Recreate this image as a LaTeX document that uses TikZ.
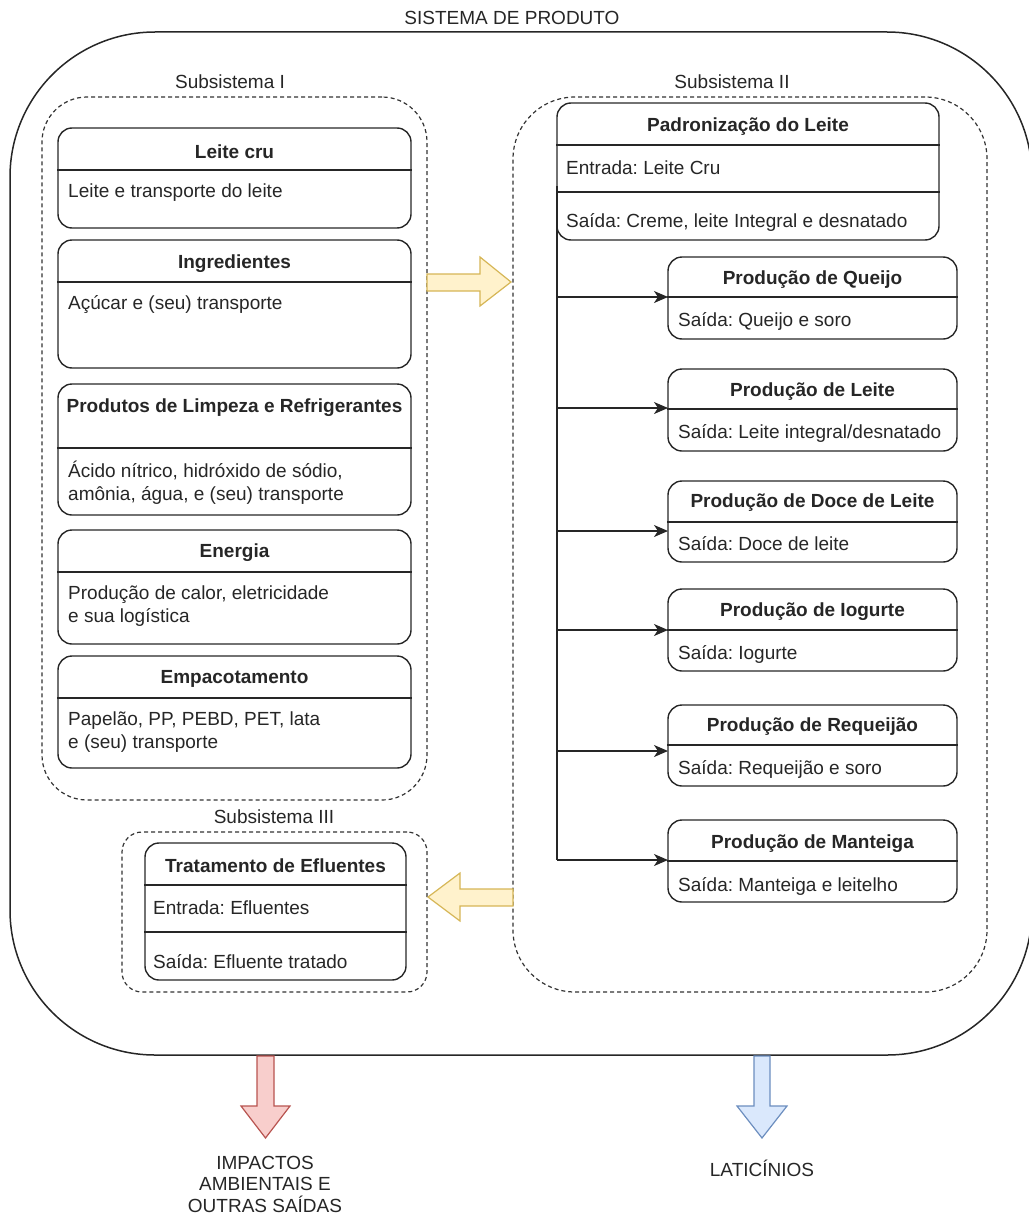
\documentclass[tikz,border=0pt]{standalone}
\usepackage{fontspec}
\setmainfont{Liberation Sans}
\usetikzlibrary{arrows.meta}
\frenchspacing
\begin{document}
\begin{tikzpicture}[x=1pt,y=-1pt,
  every node/.style={font=\fontsize{19}{23}\selectfont},
  ln/.style={draw=black!85, line width=1.4pt},
  box/.style={ln, rectangle, rounded corners=14pt, inner sep=0pt},
  dashbox/.style={draw=black!80, line width=1.2pt, dash pattern=on 4pt off 3pt, rectangle, inner sep=0pt},
  ttl/.style={font=\fontsize{19}{23}\selectfont\bfseries, text=black!85, inner sep=0pt, yshift=-1.5pt},
  txt/.style={text=black!85, inner sep=0pt, anchor=west, align=left, yshift=-2pt},
  lbl/.style={text=black!85, inner sep=0pt, align=center, yshift=-1pt},
  arr/.style={draw=black!85, line width=1.4pt, -{Stealth[length=14pt,width=12pt,inset=4pt]}},
]
\definecolor{yfill}{HTML}{FFF2CC}\definecolor{ydraw}{HTML}{D6B656}
\definecolor{rfill}{HTML}{F8CECC}\definecolor{rdraw}{HTML}{B85450}
\definecolor{bfill}{HTML}{DAE8FC}\definecolor{bdraw}{HTML}{6C8EBF}
\useasboundingbox (0,0) rectangle (1028,1215);

% outer system
\node[draw=black!85, line width=1.5pt, rectangle, rounded corners=145pt, minimum width=1022pt, minimum height=1023pt] (sys) at (521,543.5) {};
\node[lbl] (sysL) at (512,17) {SISTEMA DE PRODUTO};

% subsystems
\node[dashbox, rounded corners=45pt, minimum width=385pt, minimum height=703pt] (s1) at (234.5,448.5) {};
\node[lbl] (s1L) at (230,81) {Subsistema I};
\node[dashbox, rounded corners=62pt, minimum width=474pt, minimum height=895pt] (s2) at (750,544.5) {};
\node[lbl] (s2L) at (732,81) {Subsistema II};
\node[dashbox, rounded corners=20pt, minimum width=305pt, minimum height=160pt] (s3) at (274.5,912) {};
\node[lbl] (s3L) at (274,816) {Subsistema III};

% ---- left boxes
\node[box, minimum width=353pt, minimum height=100pt] (lc) at (234.5,178) {};
\draw[ln] (lc.west |- 0,170) -- (lc.east |- 0,170);
\node[ttl] (lcT) at (234.5,150) {Leite cru};
\node[txt] (lcB) at (68,191) {Leite e transporte do leite};

\node[box, minimum width=353pt, minimum height=128pt] (ing) at (234.5,304) {};
\draw[ln] (ing.west |- 0,282) -- (ing.east |- 0,282);
\node[ttl] (ingT) at (234.5,262) {Ingredientes};
\node[txt] (ingB) at (68,303) {Açúcar e (seu) transporte};

\node[box, minimum width=353pt, minimum height=131pt] (pl) at (234.5,449.5) {};
\draw[ln] (pl.west |- 0,448) -- (pl.east |- 0,448);
\node[ttl] (plT) at (234.5,406) {Produtos de Limpeza e Refrigerantes};
\node[txt] (plB) at (68,480.5) {Ácido nítrico, hidróxido de sódio,\\amônia, água, e (seu) transporte};

\node[box, minimum width=353pt, minimum height=114pt] (en) at (234.5,587) {};
\draw[ln] (en.west |- 0,572) -- (en.east |- 0,572);
\node[ttl] (enT) at (234.5,551) {Energia};
\node[txt] (enB) at (68,604) {Produção de calor, eletricidade\\e sua logística};

\node[box, minimum width=353pt, minimum height=112pt] (emp) at (234.5,712) {};
\draw[ln] (emp.west |- 0,698) -- (emp.east |- 0,698);
\node[ttl] (empT) at (234.5,677) {Empacotamento};
\node[txt] (empB) at (68,730) {Papelão, PP, PEBD, PET, lata\\e (seu) transporte};

% ---- subsystem III
\node[box, minimum width=261pt, minimum height=137pt] (tr) at (275.5,911.5) {};
\draw[ln] (tr.west |- 0,885) -- (tr.east |- 0,885);
\draw[ln] (tr.west |- 0,932) -- (tr.east |- 0,932);
\node[ttl] (trT) at (275.5,864) {Tratamento de Efluentes};
\node[txt] (trE) at (153,906) {Entrada: Efluentes};
\node[txt] (trS) at (153,960) {Saída: Efluente tratado};

% ---- subsystem II
\node[box, minimum width=382pt, minimum height=137pt] (pad) at (748,171.5) {};
\draw[ln] (pad.west |- 0,145) -- (pad.east |- 0,145);
\draw[ln] (pad.west |- 0,192) -- (pad.east |- 0,192);
\node[ttl] (padT) at (748,125) {Padronização do Leite};
\node[txt] (padE) at (566,166) {Entrada: Leite Cru};
\node[txt] (padS) at (566,220) {Saída: Creme, leite Integral e desnatado};

\node[box, minimum width=289pt, minimum height=82pt] (qj) at (812.5,298) {};
\draw[ln] (qj.west |- 0,297) -- (qj.east |- 0,297);
\node[ttl] (qjT) at (812.5,278) {Produção de Queijo};
\node[txt] (qjB) at (678,319) {Saída: Queijo e soro};

\node[box, minimum width=289pt, minimum height=82pt] (lt) at (812.5,410) {};
\draw[ln] (lt.west |- 0,409) -- (lt.east |- 0,409);
\node[ttl] (ltT) at (812.5,390) {Produção de Leite};
\node[txt] (ltB) at (678,431) {Saída: Leite integral/desnatado};

\node[box, minimum width=289pt, minimum height=81pt] (dc) at (812.5,521.5) {};
\draw[ln] (dc.west |- 0,522) -- (dc.east |- 0,522);
\node[ttl] (dcT) at (812.5,501) {Produção de Doce de Leite};
\node[txt] (dcB) at (678,542) {Saída: Doce de leite};

\node[box, minimum width=289pt, minimum height=82pt] (io) at (812.5,630) {};
\draw[ln] (io.west |- 0,630) -- (io.east |- 0,630);
\node[ttl] (ioT) at (812.5,610) {Produção de Iogurte};
\node[txt] (ioB) at (678,652) {Saída: Iogurte};

\node[box, minimum width=289pt, minimum height=81pt] (rq) at (812.5,745.5) {};
\draw[ln] (rq.west |- 0,745) -- (rq.east |- 0,745);
\node[ttl] (rqT) at (812.5,725) {Produção de Requeijão};
\node[txt] (rqB) at (678,767) {Saída: Requeijão e soro};

\node[box, minimum width=289pt, minimum height=82pt] (mt) at (812.5,861) {};
\draw[ln] (mt.west |- 0,861) -- (mt.east |- 0,861);
\node[ttl] (mtT) at (812.5,842) {Produção de Manteiga};
\node[txt] (mtB) at (678,884) {Saída: Manteiga e leitelho};

% trunk and branch arrows
\coordinate (trunkTop) at (557,186);
\coordinate (trunkBot) at (557,860);
\draw[ln] (trunkTop) -- (trunkBot);
\coordinate (qjIn) at (668,297);
\coordinate (ltIn) at (668,408);
\coordinate (dcIn) at (668,531);
\coordinate (ioIn) at (668,630);
\coordinate (rqIn) at (668,751);
\coordinate (mtIn) at (668,860);
\foreach \t in {qjIn,ltIn,dcIn,ioIn,rqIn,mtIn}{
  \draw[arr] (\t -| trunkTop) -- (\t);
}

% block arrows
\draw[fill=yfill, draw=ydraw, line width=1.2pt] (427,274) -- (480,274) -- (480,257) -- (511,282) -- (480,306) -- (480,291) -- (427,291) -- cycle;
\draw[fill=yfill, draw=ydraw, line width=1.2pt] (513,889) -- (460,889) -- (460,873) -- (428,897) -- (460,921) -- (460,906) -- (513,906) -- cycle;
\draw[fill=rfill, draw=rdraw, line width=1.2pt] (257,1056) -- (274,1056) -- (274,1106) -- (290,1106) -- (265.5,1138) -- (241,1106) -- (257,1106) -- cycle;
\draw[fill=bfill, draw=bdraw, line width=1.2pt] (754,1056) -- (770,1056) -- (770,1106) -- (787,1106) -- (762,1138) -- (737,1106) -- (754,1106) -- cycle;

\node[lbl, font=\fontsize{19}{21.5}\selectfont] (imp) at (265,1183) {IMPACTOS\\AMBIENTAIS E\\OUTRAS SAÍDAS};
\node[lbl] (lat) at (762,1167) {LATICÍNIOS};
\end{tikzpicture}
\end{document}
